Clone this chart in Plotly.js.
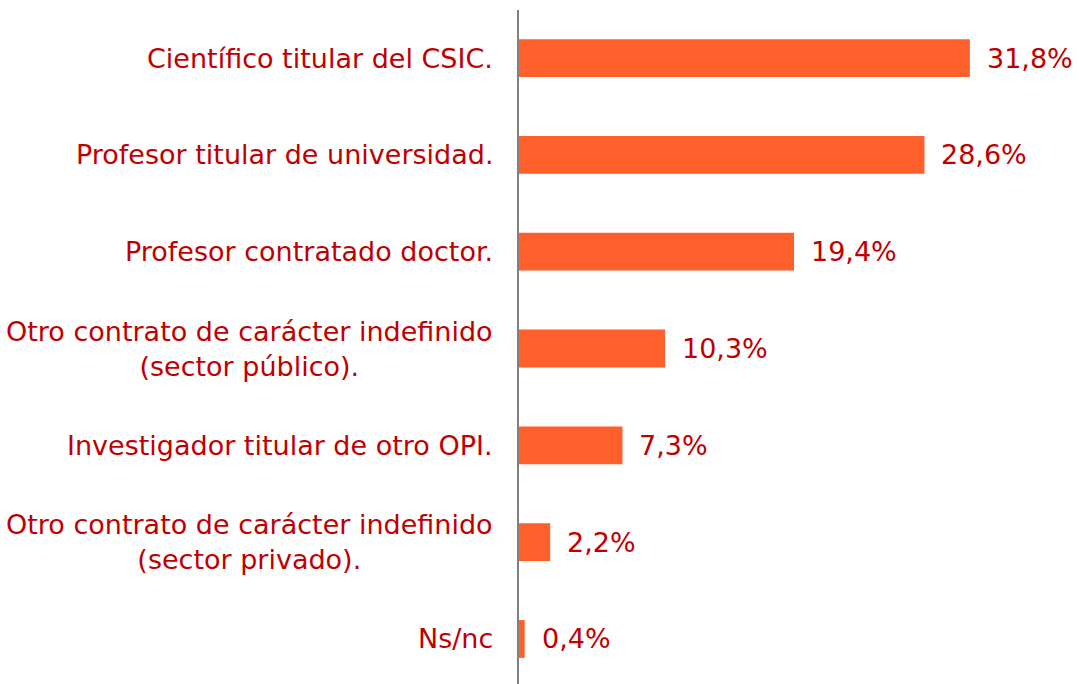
<!DOCTYPE html>
<html>
<head>
<meta charset="utf-8">
<script src="https://cdn.plot.ly/plotly-3.0.1.min.js"></script>
<style>html,body{margin:0;padding:0;background:#fff;}#chart{width:1079px;height:684px;}</style>
</head>
<body>
<div id="chart"></div>
<script>
const categories = [
  "Científico titular del CSIC.",
  "Profesor titular de universidad.",
  "Profesor contratado doctor.",
  "Otro contrato de carácter indefinido<br>(sector público).",
  "Investigador titular de otro OPI.",
  "Otro contrato de carácter indefinido<br>(sector privado).",
  "Ns/nc"
];
const values = [31.8, 28.6, 19.4, 10.3, 7.3, 2.2, 0.4];
const valueLabels = values.map(v => v.toFixed(1).replace('.', ',') + '%');

const barColor = '#FF5F2B';
const textColor = '#C00000';
const font = '"DejaVu Sans", Verdana, sans-serif';

const annotations = [];
categories.forEach((c, i) => {
  annotations.push({
    xref: 'paper', yref: 'y', x: 0, y: i,
    xanchor: 'right', yanchor: 'middle', xshift: -24,
    text: c, showarrow: false, align: 'center',
    font: {family: font, size: 27, color: textColor}
  });
  annotations.push({
    xref: 'x', yref: 'y', x: values[i], y: i,
    xanchor: 'left', yanchor: 'middle', xshift: 15,
    text: valueLabels[i], showarrow: false,
    font: {family: font, size: 27, color: textColor}
  });
});

const trace = {
  type: 'bar', orientation: 'h',
  x: values, y: categories.map((c, i) => i),
  marker: {color: barColor},
  width: 0.39,
  hoverinfo: 'none'
};

const layout = {
  width: 1079, height: 684,
  margin: {l: 519, r: 0, t: 10, b: 0},
  paper_bgcolor: '#fff', plot_bgcolor: '#fff',
  showlegend: false,
  xaxis: {range: [0, 39.5], showgrid: false, zeroline: false, showticklabels: false, showline: false, ticks: ''},
  yaxis: {range: [6.465, -0.496], showgrid: false, zeroline: false, showticklabels: false,
          showline: true, linecolor: '#808080', linewidth: 2, ticks: ''},
  annotations: annotations
};

Plotly.newPlot('chart', [trace], layout, {displayModeBar: false, staticPlot: true});
</script>
</body>
</html>
